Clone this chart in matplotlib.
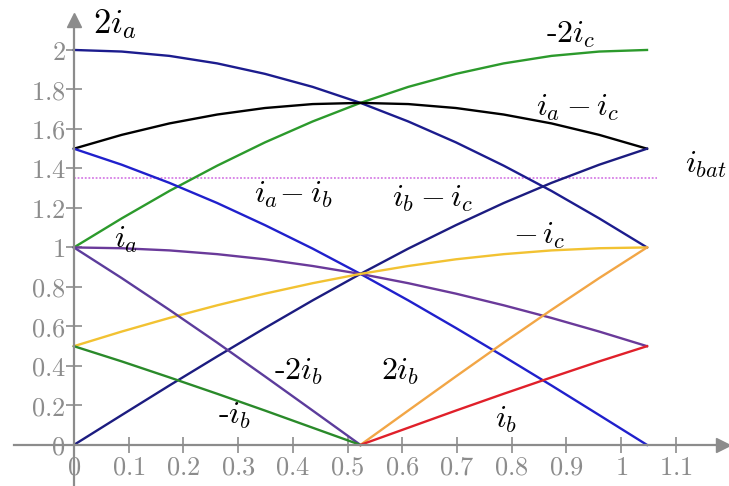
import matplotlib
matplotlib.use("Agg")
import matplotlib.pyplot as plt

plt.rcParams['mathtext.fontset'] = 'cm'

# угол от 0 до pi/3 с шагом 5 градусов
x_full = [0.0, 0.0873, 0.1745, 0.2618, 0.3491, 0.4363, 0.5236,
          0.6109, 0.6981, 0.7854, 0.8727, 0.9599, 1.0472]
x_left = [0.0, 0.0873, 0.1745, 0.2618, 0.3491, 0.4363, 0.5236]
x_right = [0.5236, 0.6109, 0.6981, 0.7854, 0.8727, 0.9599, 1.0472]

two_ia = [2.0, 1.992, 1.970, 1.932, 1.879, 1.813, 1.732,
          1.638, 1.532, 1.414, 1.286, 1.147, 1.0]
minus_two_ic = [1.0, 1.147, 1.286, 1.414, 1.532, 1.638, 1.732,
                1.813, 1.879, 1.932, 1.970, 1.992, 2.0]
ia_minus_ic = [1.5, 1.570, 1.628, 1.673, 1.706, 1.726, 1.732,
               1.726, 1.706, 1.673, 1.628, 1.570, 1.5]
ia_minus_ib = [1.5, 1.419, 1.327, 1.225, 1.113, 0.994, 0.866,
               0.732, 0.592, 0.448, 0.301, 0.151, 0.0]
ib_minus_ic = [0.0, 0.151, 0.301, 0.448, 0.592, 0.732, 0.866,
               0.994, 1.113, 1.225, 1.327, 1.419, 1.5]
ia = [1.0, 0.996, 0.985, 0.966, 0.940, 0.906, 0.866,
      0.819, 0.766, 0.707, 0.643, 0.574, 0.5]
minus_ic = [0.5, 0.574, 0.643, 0.707, 0.766, 0.819, 0.866,
            0.906, 0.940, 0.966, 0.985, 0.996, 1.0]
minus_two_ib = [1.0, 0.845, 0.684, 0.518, 0.347, 0.174, 0.0]
minus_ib = [0.5, 0.423, 0.342, 0.259, 0.174, 0.087, 0.0]
two_ib = [0.0, 0.174, 0.347, 0.518, 0.684, 0.845, 1.0]
ib = [0.0, 0.087, 0.174, 0.259, 0.342, 0.423, 0.5]
i_bat = 1.35
bat_x = [0.0, 1.066]

x_ticks = [0, 0.1, 0.2, 0.3, 0.4, 0.5, 0.6, 0.7, 0.8, 0.9, 1, 1.1]
y_ticks = [0, 0.2, 0.4, 0.6, 0.8, 1, 1.2, 1.4, 1.6, 1.8, 2]

gray = '#8c8c8c'

fig = plt.figure(figsize=(7.29, 4.86), dpi=100)
ax = fig.add_axes([0, 0, 1, 1])
ax.set_xlim(-0.135, 1.197)
ax.set_ylim(-0.208, 2.253)

lw = 1.7
ax.plot(bat_x, [i_bat, i_bat], color='#d77ee6', lw=1.3, ls=(0, (1, 1)))
ax.plot(x_full, two_ia, color='#1c1c8e', lw=lw)
ax.plot(x_full, minus_two_ic, color='#2c9a2c', lw=lw)
ax.plot(x_full, ia_minus_ic, color='black', lw=lw)
ax.plot(x_full, ia_minus_ib, color='#2020cc', lw=lw)
ax.plot(x_full, ib_minus_ic, color='#1c1c80', lw=lw)
ax.plot(x_full, ia, color='#6a3a9a', lw=lw)
ax.plot(x_full, minus_ic, color='#f2c232', lw=lw)
ax.plot(x_left, minus_two_ib, color='#5c3c9c', lw=lw)
ax.plot(x_left, minus_ib, color='#2a8a2a', lw=lw)
ax.plot(x_right, two_ib, color='#f2a646', lw=lw)
ax.plot(x_right, ib, color='#e0202a', lw=lw)

# оси со стрелками
for s in ['top', 'right']:
    ax.spines[s].set_visible(False)
ax.spines['left'].set_position(('data', 0))
ax.spines['bottom'].set_position(('data', 0))
ax.spines['left'].set_bounds(-0.25, 2.14)
ax.spines['bottom'].set_bounds(-0.11, 1.18)
for s in ['left', 'bottom']:
    ax.spines[s].set_color(gray)
    ax.spines[s].set_linewidth(1.6)
ax.plot(1.186, 0, '>', color=gray, ms=10, clip_on=False)
ax.plot(0, 2.15, '^', color=gray, ms=10, clip_on=False)

ax.set_xticks(x_ticks)
ax.set_xticklabels(['$%g$' % v for v in x_ticks])
ax.set_yticks(y_ticks)
ax.set_yticklabels(['$%g$' % v for v in y_ticks])
ax.tick_params(direction='inout', length=12, width=1.2, color=gray,
               labelcolor=gray, labelsize=19)
ax.tick_params(axis='x', pad=1)
ax.tick_params(axis='y', pad=0)

fs = 23
ax.text(0.075, 2.13, r'$2i_a$', fontsize=25, ha='center', va='center')
ax.text(0.907, 2.08, r'$\text{-}2i_c$', fontsize=fs, ha='center', va='center')
ax.text(0.92, 1.71, r'$i_a - i_c$', fontsize=fs, ha='center', va='center')
ax.text(1.155, 1.42, r'$i_{bat}$', fontsize=fs, ha='center', va='center')
ax.text(0.40, 1.27, r'$i_a\!-i_b$', fontsize=fs, ha='center', va='center')
ax.text(0.655, 1.25, r'$i_b - i_c$', fontsize=fs, ha='center', va='center')
ax.text(0.095, 1.04, r'$i_a$', fontsize=fs, ha='center', va='center')
ax.text(0.85, 1.06, r'$-\,i_c$', fontsize=fs, ha='center', va='center')
ax.text(0.41, 0.37, r'$\text{-}2i_b$', fontsize=fs, ha='center', va='center')
ax.text(0.596, 0.37, r'$2i_b$', fontsize=fs, ha='center', va='center')
ax.text(0.294, 0.15, r'$\text{-}i_b$', fontsize=fs, ha='center', va='center')
ax.text(0.79, 0.13, r'$i_b$', fontsize=fs, ha='center', va='center')

fig.savefig('out.png', dpi=100)
